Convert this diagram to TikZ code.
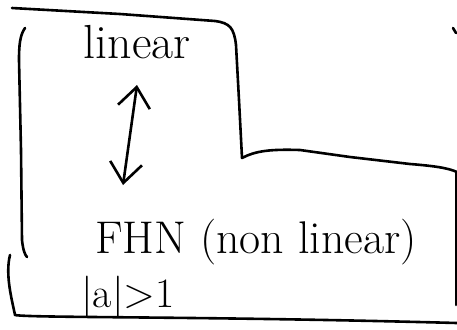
\documentclass[tikz,border=0pt]{standalone}
\usetikzlibrary{arrows.meta}
\begin{document}
\begin{tikzpicture}[x=1bp,y=-1bp,
  stroke/.style={line width=2.6bp, line cap=round, line join=round},
  hand/.style={inner sep=0pt, anchor=base},
  barb/.style={stroke, {Straight Barb[length=20bp,width=32bp]}-{Straight Barb[length=20bp,width=32bp]}}]
\useasboundingbox (0,0) rectangle (457,329);
% outer outline
\draw[stroke] (12,8) -- (120,14) -- (215,21) .. controls (230,23) and (234,28) .. (236,45)
  -- (239,100) -- (242,158) .. controls (255,151) and (270,149) .. (300,150)
  -- (350,157) -- (410,164) .. controls (435,166) and (448,168) .. (457,172);
\draw[stroke] (456,172) -- (456,305);
\draw[stroke] (10,255) .. controls (5,275) and (12,300) .. (15,315)
  .. controls (30,318) and (200,316) .. (457,323);
\draw[stroke] (25,28) .. controls (20,35) and (19,45) .. (19,60) -- (21,150) -- (22,240)
  .. controls (23,250) and (25,255) .. (27,257);
\draw[stroke] (453,28) -- (456,33);
% texts
\node[hand, font=\fontsize{48}{48}\selectfont] (lin) at (137,58) {linear};
\node[hand, font=\fontsize{46}{46}\selectfont] (fhn) at (256,253) {FHN (non linear)};
\node[hand, font=\fontsize{42}{42}\selectfont] (cond) at (128,307) {|a|>1};
% arrow
\coordinate (up) at (137,85);
\coordinate (dn) at (123,185);
\draw[barb] (dn) -- (up);
\end{tikzpicture}
\end{document}
